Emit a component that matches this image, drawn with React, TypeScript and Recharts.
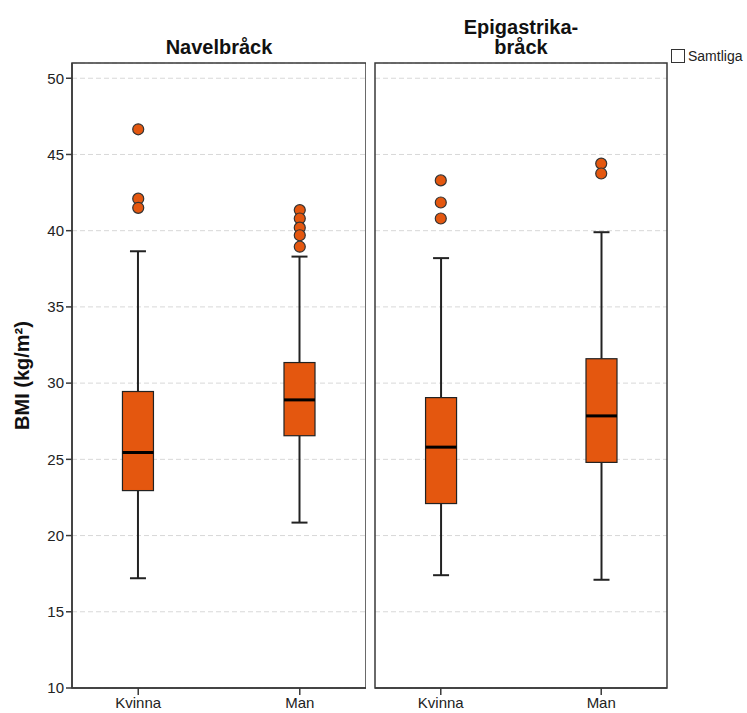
import React from "react";
import {
  ComposedChart, Bar, Scatter, XAxis, YAxis, CartesianGrid, ReferenceArea, Legend,
} from "recharts";

const categories = ["Kvinna", "Man"];
const yTicks = [10, 15, 20, 25, 30, 35, 40, 45, 50];

// Navelbråck
const navelMin = [17.2, 20.85];
const navelQ1 = [22.95, 26.55];
const navelMedian = [25.45, 28.9];
const navelQ3 = [29.45, 31.35];
const navelMax = [38.65, 38.3];
const navelOutKvinna = [46.65, 42.1, 41.5];
const navelOutMan = [41.35, 40.8, 40.2, 39.7, 38.95];

// Epigastrikabråck
const epiMin = [17.4, 17.1];
const epiQ1 = [22.1, 24.8];
const epiMedian = [25.8, 27.85];
const epiQ3 = [29.05, 31.6];
const epiMax = [38.2, 39.9];
const epiOutKvinna = [43.3, 41.85, 40.8];
const epiOutMan = [44.4, 43.75];

const ORANGE = "#e4570f";
const FRAME = "#3a3a3a";
const FONT = '"Liberation Sans", Arial, sans-serif';
const X_DOMAIN: [number, number] = [-0.41, 1.41];
const Y_DOMAIN: [number, number] = [10, 51];

const buildBoxes = (mn: number[], q1: number[], md: number[], q3: number[], mx: number[]) =>
  categories.map((_, i) => ({ x: i, min: mn[i], q1: q1[i], median: md[i], q3: q3[i], max: mx[i] }));

const buildOutliers = (kv: number[], man: number[]) => [
  ...kv.map((y) => ({ x: 0, y })),
  ...man.map((y) => ({ x: 1, y })),
];

const navelBoxes = buildBoxes(navelMin, navelQ1, navelMedian, navelQ3, navelMax);
const epiBoxes = buildBoxes(epiMin, epiQ1, epiMedian, epiQ3, epiMax);
const navelOutliers = buildOutliers(navelOutKvinna, navelOutMan);
const epiOutliers = buildOutliers(epiOutKvinna, epiOutMan);

// bar spans min..max, so its pixel height gives the y scale for the other levels
const BoxShape = (props: any) => {
  const { x, y, width, height, payload } = props;
  const { min, q1, median, q3, max } = payload;
  const ppu = height / (max - min);
  const py = (v: number) => y + (max - v) * ppu;
  const cx = x + width / 2;
  const cap = 8;
  return (
    <g>
      <line x1={cx} x2={cx} y1={py(max)} y2={py(q3)} stroke="#222" strokeWidth={2} />
      <line x1={cx} x2={cx} y1={py(q1)} y2={py(min)} stroke="#222" strokeWidth={2} />
      <line x1={cx - cap} x2={cx + cap} y1={py(max)} y2={py(max)} stroke="#222" strokeWidth={2} />
      <line x1={cx - cap} x2={cx + cap} y1={py(min)} y2={py(min)} stroke="#222" strokeWidth={2} />
      <rect x={x} y={py(q3)} width={width} height={py(q1) - py(q3)} fill={ORANGE} stroke="#222" strokeWidth={1.2} />
      <line x1={x} x2={x + width} y1={py(median)} y2={py(median)} stroke="#000" strokeWidth={3} />
    </g>
  );
};

const OutlierDot = (props: any) => (
  <circle cx={props.cx} cy={props.cy} r={5.5} fill={ORANGE} stroke="#333" strokeWidth={1.2} />
);

const LegendBox = () => (
  <div style={{ display: "flex", alignItems: "center", fontFamily: FONT, fontSize: 14, color: "#222" }}>
    <span style={{ display: "inline-block", width: 12, height: 12, border: "1px solid #333", marginRight: 3, background: "#fff" }} />
    Samtliga
  </div>
);

function Panel({ boxes, outliers, showY, width, margin, legend }: any) {
  return (
    <ComposedChart width={width} height={713} data={boxes} margin={margin}>
      <CartesianGrid vertical={false} stroke="#d8d8d8" strokeDasharray="5 3" />
      <XAxis
        dataKey="x" type="number" domain={X_DOMAIN} ticks={[0, 1]} height={25}
        tickFormatter={(v: number) => categories[v]}
        tick={{ fill: "#222", fontSize: 15, fontFamily: FONT }}
        tickSize={7} tickMargin={2}
        tickLine={{ stroke: FRAME, strokeWidth: 1.5 }}
        axisLine={{ stroke: FRAME, strokeWidth: 1.5 }}
      />
      {showY ? (
        <YAxis
          type="number" domain={Y_DOMAIN} ticks={yTicks} width={72} interval={0}
          tick={{ fill: "#222", fontSize: 15, fontFamily: FONT }}
          tickSize={6} tickMargin={2}
          tickLine={{ stroke: FRAME, strokeWidth: 1.5 }}
          axisLine={{ stroke: FRAME, strokeWidth: 1.5 }}
          label={{
            value: "BMI (kg/m²)", angle: -90, position: "center", dx: -14,
            style: { fontSize: 20, fontWeight: "bold", fill: "#111", fontFamily: FONT },
          }}
        />
      ) : (
        <YAxis type="number" domain={Y_DOMAIN} ticks={yTicks} hide />
      )}
      <ReferenceArea
        x1={X_DOMAIN[0]} x2={X_DOMAIN[1]} y1={Y_DOMAIN[0]} y2={Y_DOMAIN[1]}
        fill="none" fillOpacity={0} stroke={FRAME} strokeWidth={1.5}
      />
      <Bar dataKey={(d: any) => [d.min, d.max]} barSize={31} shape={BoxShape} isAnimationActive={false} />
      <Scatter data={outliers} dataKey="y" shape={OutlierDot} isAnimationActive={false} />
      {legend && (
        <Legend
          layout="horizontal" verticalAlign="middle" align="center"
          wrapperStyle={{ left: 301, top: 48, width: "auto", height: "auto" }}
          content={() => <LegendBox />}
        />
      )}
    </ComposedChart>
  );
}

export default function App() {
  const title = {
    position: "absolute" as const, fontFamily: FONT, fontWeight: "bold" as const, fontSize: 20,
    color: "#111", textAlign: "center" as const, lineHeight: "20px",
  };
  return (
    <div style={{ position: "absolute", left: 0, top: 0, width: 747, height: 713, background: "#fff" }}>
      <div style={{ ...title, left: 119, width: 200, top: 37 }}>Navelbråck</div>
      <div style={{ ...title, left: 421, width: 200, top: 17 }}>Epigastrika-<br />bråck</div>
      <div style={{ position: "absolute", left: 0, top: 0 }}>
        <Panel boxes={navelBoxes} outliers={navelOutliers} showY width={366}
          margin={{ top: 63, right: 0, bottom: 0, left: 0 }} />
      </div>
      <div style={{ position: "absolute", left: 370, top: 0 }}>
        <Panel boxes={epiBoxes} outliers={epiOutliers} showY={false} width={377} legend
          margin={{ top: 63, right: 80, bottom: 0, left: 5 }} />
      </div>
    </div>
  );
}
